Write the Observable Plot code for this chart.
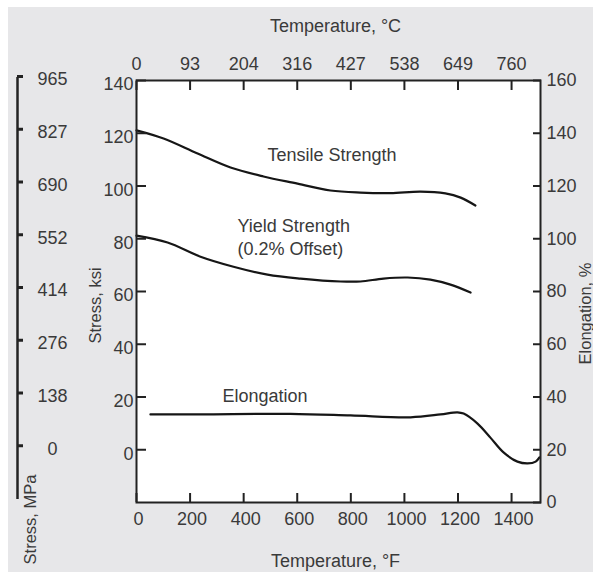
<!DOCTYPE html>
<html><head><meta charset="utf-8">
<script src="https://cdn.jsdelivr.net/npm/d3@7"></script>
<script src="https://cdn.jsdelivr.net/npm/@observablehq/plot@0.6"></script>
<style>
html,body{margin:0;padding:0;background:#fff;}
#chart{position:absolute;left:8px;top:7px;}
</style></head><body><div id="chart"></div>
<script>
// ---- data (temperature in °F, stress in ksi, elongation in %) ----
const tensileF   = [0, 101, 228, 351, 474, 601, 724, 836, 948, 1060, 1153, 1210, 1265];
const tensileKsi = [121.1, 118.0, 112.3, 107.0, 103.6, 100.9, 98.3, 97.5, 97.3, 97.9, 97.2, 95.6, 92.6];

const yieldF   = [0, 116, 239, 362, 489, 612, 762, 836, 922, 1012, 1097, 1172, 1247];
const yieldKsi = [81.2, 78.6, 73.2, 69.4, 66.4, 64.9, 63.8, 63.8, 64.9, 65.3, 64.5, 62.6, 59.6];

const elongF   = [52, 239, 575, 799, 1023, 1135, 1198, 1221, 1273, 1321, 1370, 1422, 1460, 1490, 1504];
const elongPct = [33.4, 33.4, 33.6, 33.0, 32.3, 33.4, 34.2, 33.7, 29.9, 24.6, 19.0, 15.5, 14.8, 15.5, 17.1];

const fTicks     = [0, 200, 400, 600, 800, 1000, 1200, 1400];
const cLabels    = ["0", "93", "204", "316", "427", "538", "649", "760"];
const ksiTicks   = [0, 20, 40, 60, 80, 100, 120, 140];
const mpaLabels  = ["0", "138", "276", "414", "552", "690", "827", "965"];
const elongTicks = [0, 20, 40, 60, 80, 100, 120, 140, 160];
const elongOffset = 20;           // elongation 20 % lines up with 0 ksi
const yDomain = [-20, 140];
const xDomain = [0, 1508];

const curveLabels = [
  {F: 489, ksi: 112.1, text: "Tensile Strength"},
  {F: 377, ksi: 80.9,  text: "Yield Strength\n(0.2% Offset)"},
  {F: 321, ksi: 20.9,  text: "Elongation"}
];

// ---- tables ----
const tensile = tensileF.map((F, i) => ({F, v: tensileKsi[i]}));
const yieldS  = yieldF.map((F, i) => ({F, v: yieldKsi[i]}));
const elong   = elongF.map((F, i) => ({F, v: elongPct[i] - elongOffset}));
const cMap = new Map(fTicks.map((f, i) => [f, cLabels[i]]));
const mpaTable = ksiTicks.map((k, i) => ({k, label: mpaLabels[i]}));

const ink = "#222";
const txt = "#3a3a3a";
const FS = 18;

const chart = Plot.plot({
  width: 585, height: 565,
  marginLeft: 128, marginRight: 53, marginTop: 73, marginBottom: 70,
  style: {background: "#e7e7e9", fontFamily: "'Liberation Sans', Arial, sans-serif", fontSize: FS + "px", color: txt, overflow: "visible"},
  x: {domain: xDomain},
  y: {domain: yDomain},
  marks: [
    Plot.frame({fill: "white"}),
    Plot.line(tensile, {x: "F", y: "v", curve: "catmull-rom", stroke: "#161616", strokeWidth: 2.2}),
    Plot.line(yieldS,  {x: "F", y: "v", curve: "catmull-rom", stroke: "#161616", strokeWidth: 2.2}),
    Plot.line(elong,   {x: "F", y: "v", curve: "catmull-rom", stroke: "#161616", strokeWidth: 2.2}),
    Plot.text(curveLabels, {x: "F", y: "ksi", text: "text", textAnchor: "start", lineAnchor: "middle", lineHeight: 1.25, fontSize: FS, fill: txt}),

    // bottom °F axis
    Plot.axisX({anchor: "bottom", ticks: fTicks, tickSize: -9, tickFormat: () => "", label: null, stroke: ink, strokeWidth: 2}),
    Plot.axisX({anchor: "bottom", ticks: fTicks, tickSize: 0, tickPadding: 10, dx: 2, tickFormat: d => String(d), label: null, fontSize: FS, fill: txt}),
    // top °C axis
    Plot.axisX({anchor: "top", ticks: fTicks, tickSize: -9, tickFormat: () => "", label: null, stroke: ink, strokeWidth: 2}),
    Plot.axisX({anchor: "top", ticks: fTicks, tickSize: 0, tickPadding: 11, tickFormat: d => cMap.get(d), label: null, fontSize: FS, fill: txt}),
    // left ksi axis
    Plot.axisY({anchor: "left", ticks: ksiTicks, tickSize: -10, tickFormat: () => "", label: null, stroke: ink, strokeWidth: 2}),
    Plot.axisY({anchor: "left", ticks: ksiTicks, tickSize: 0, tickPadding: 3, dy: 4, tickFormat: d => String(d), label: null, fontSize: FS, fill: txt}),
    // right elongation axis
    Plot.axisY({anchor: "right", ticks: elongTicks.map(e => e - elongOffset), tickSize: -8, tickFormat: () => "", label: null, stroke: ink, strokeWidth: 2}),
    Plot.axisY({anchor: "right", ticks: elongTicks.map(e => e - elongOffset), tickSize: 0, tickPadding: 6, tickFormat: d => String(d + elongOffset), label: null, fontSize: FS, fill: txt}),
    // far-left MPa axis
    Plot.ruleX([xDomain[0]], {y1: yDomain[0], y2: yDomain[1], dx: -119, dy: -3, stroke: ink, strokeWidth: 2.5}),
    Plot.axisY({anchor: "left", ticks: ksiTicks, tickSize: -6, dx: -119, dy: -4, tickFormat: () => "", label: null, stroke: ink, strokeWidth: 3}),
    Plot.text(mpaTable, {y: "k", text: "label", frameAnchor: "left", dx: -84, dy: -1, textAnchor: "middle", lineAnchor: "middle", fontSize: FS, fill: txt}),

    // axis titles
    Plot.text(["Temperature, °C"], {frameAnchor: "top", dy: -54, dx: -3, textAnchor: "middle", lineAnchor: "middle", fontSize: FS, fill: txt}),
    Plot.text(["Temperature, °F"], {frameAnchor: "bottom", dy: 59, dx: -3, textAnchor: "middle", lineAnchor: "middle", fontSize: FS, fill: txt}),
    Plot.text(["Stress, ksi"], {frameAnchor: "left", dx: -41, dy: 14, rotate: -90, textAnchor: "middle", lineAnchor: "middle", fontSize: 16.5, fill: txt}),
    Plot.text(["Elongation, %"], {frameAnchor: "right", dx: 45, dy: 22, rotate: -90, textAnchor: "middle", lineAnchor: "middle", fontSize: 16.5, fill: txt}),
    Plot.text(["Stress, MPa"], {frameAnchor: "left", dx: -106, dy: 228, rotate: -90, textAnchor: "middle", lineAnchor: "middle", fontSize: 16.5, fill: txt}),

    Plot.frame({stroke: ink, strokeWidth: 2})
  ]
});
document.getElementById("chart").append(chart);
</script></body></html>
